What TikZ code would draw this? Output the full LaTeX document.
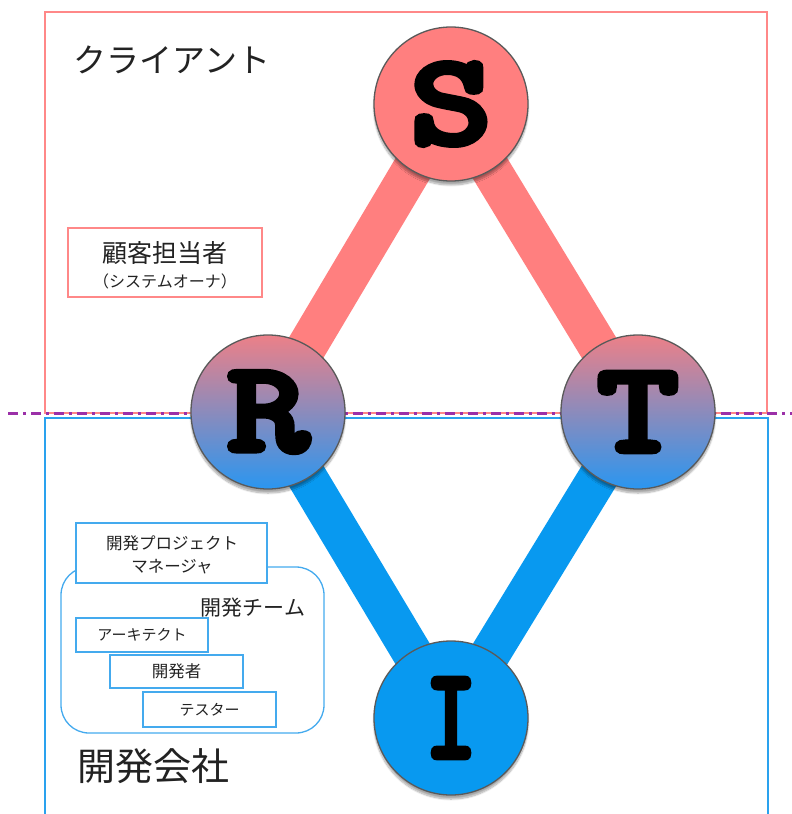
\documentclass[tikz,border=0pt]{standalone}
\usepackage{fontspec}
\newfontfamily\jp{Noto Sans CJK JP}
\newfontfamily\letterfont{Latin Modern Mono}[FakeBold=6]
\newcommand\ballltr[2][1.25]{\scalebox{#1}[1.02]{#2}}
\usetikzlibrary{shadows.blur,backgrounds}
\definecolor{redfill}{HTML}{FF7F7F}
\definecolor{bluefill}{HTML}{0899F0}
\definecolor{redline}{HTML}{FF8888}
\definecolor{blueline}{HTML}{2AA2EE}
\definecolor{boxline}{HTML}{44AAEE}
\definecolor{gradtop}{HTML}{EC8088}
\definecolor{gradbot}{HTML}{2A96F0}
\definecolor{dashcol}{HTML}{9B30A8}
\definecolor{txt}{HTML}{222222}
\tikzset{
  ball/.style={circle, minimum size=154pt, inner sep=0pt, draw={rgb,255:red,90;green,90;blue,90}, line width=1.3pt,
    font=\letterfont\fontsize{124}{124}\selectfont,
    blur shadow={shadow xshift=0pt, shadow yshift=-4pt, shadow blur steps=10, shadow opacity=35}},
  redband/.style={line width=40pt, draw=redfill},
  blueband/.style={line width=40pt, draw=bluefill},
  rolebox/.style={draw=boxline, line width=1.3pt, fill=white, text=txt, inner sep=0pt, font=\jp\fontsize{15}{18}\selectfont},
  label/.style={text=txt, inner sep=0pt}
}
\begin{document}
\begin{tikzpicture}[x=1pt,y=-1pt]
\useasboundingbox (0,0) rectangle (792,814);
% nodes (circles)
\node[ball, fill=redfill] (S) at (451,104) {\ballltr{S}};
\node[ball, top color=gradtop, bottom color=gradbot] (R) at (268,412) {\ballltr{R}};
\node[ball, top color=gradtop, bottom color=gradbot] (T) at (638,412) {\ballltr{T}};
\node[ball, fill=bluefill] (I) at (451,718) {\ballltr[0.8]{I}};
\begin{scope}[on background layer]
  \draw[redline, line width=2pt] (45,12) rectangle (767,413);
  \draw[blueline, line width=2pt] (45,818) -- (45,418) -- (768,418) -- (768,818);
  \draw[dashcol, line width=3pt, dash pattern=on 10pt off 5pt on 3pt off 5pt] (8,413) -- (792,413);
  \draw[redband] (S.center) -- (R.center);
  \draw[redband] (S.center) -- (T.center);
  \draw[blueband] (R.center) -- (I.center);
  \draw[blueband] (T.center) -- (I.center);
\end{scope}
% labels
\node[label, font=\jp\fontsize{33}{33}\selectfont] (client) at (172,60) {クライアント};
\node[label, font=\jp\fontsize{38}{38}\selectfont] (company) at (153,766) {開発会社};
% customer box
\node[draw=redline, line width=1.3pt, minimum width=194pt, minimum height=69pt, inner sep=0pt] (cust) at (165,262.5) {};
\node[label, font=\jp\fontsize{25}{25}\selectfont] (custA) at (165,253) {顧客担当者};
\node[label, font=\jp\fontsize{16}{16}\selectfont] (custB) at (165,281) {（システムオーナ）};
% dev team
\draw[boxline, line width=1.3pt, rounded corners=28pt] (61,567) rectangle (324,733);
\node[rolebox, minimum width=191pt, minimum height=60pt] (pm) at (171.5,553) {};
\node[label, font=\jp\fontsize{16.5}{16.5}\selectfont] (pmA) at (172,543) {開発プロジェクト};
\node[label, font=\jp\fontsize{16.5}{16.5}\selectfont] (pmB) at (172,567) {マネージャ};
\node[label, font=\jp\fontsize{21}{21}\selectfont] (team) at (253,608) {開発チーム};
\node[rolebox, minimum width=132pt, minimum height=34pt] (arch) at (142,635) {アーキテクト};
\node[rolebox, minimum width=133pt, minimum height=33pt, font=\jp\fontsize{16.5}{18}\selectfont] (dev) at (176.5,671.5) {開発者};
\node[rolebox, minimum width=133pt, minimum height=35pt] (test) at (209.5,709.5) {テスター};
\end{tikzpicture}
\end{document}
